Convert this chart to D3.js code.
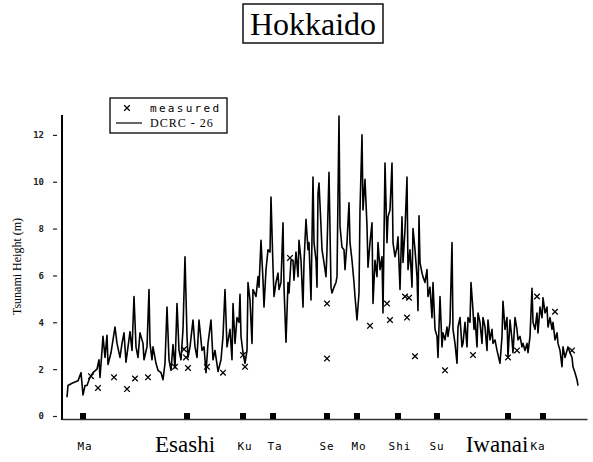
<!DOCTYPE html>
<html>
<head>
<meta charset="utf-8">
<script src="https://cdn.jsdelivr.net/npm/d3@7/dist/d3.min.js"></script>
<style>
  body { margin: 0; background: #fff; }
  svg { display: block; }
</style>
</head>
<body>
<div id="chart"></div>
<script>
// computed tsunami height along the coast (DCRC-26), [position, height m]
const modelLine = [
  [2.5,0.8],[3,1.3],[5,1.4],[6.5,1.45],[8,1.5],[9.5,1.85],[10.5,0.9],[11.5,1.3],[12.5,1.3],[14,1.65],
  [15.5,1.85],[17.5,2.0],[18.5,2.4],[19,1.65],[20,2.8],[20.5,3.4],[21.5,2.5],[22.5,3.45],[23,2.2],[24.5,2.7],
  [25.5,3.25],[26.5,3.8],[27.5,3.1],[29,2.5],[30,3.1],[31,3.55],[32,2.3],[33,2.95],[34,3.6],[35,2.8],
  [36,5.1],[37,2.95],[38,2.5],[39,3.55],[40.5,3.1],[41,2.4],[42.5,2.95],[43.5,5.4],[44,3.1],[45,2.4],
  [45.5,2.95],[47,2.25],[48,1.95],[49.5,1.85],[50.5,1.55],[51.5,2.25],[52.5,4.65],[53.5,2.4],[54.5,1.95],[55.5,3.05],
  [56.5,2.05],[57.5,4.8],[58.5,2.8],[59.5,2.4],[60.5,3.7],[61.5,6.8],[62.5,3.4],[63,2.5],[64,2.95],[65.5,4.1],
  [66.5,2.95],[67.5,2.5],[68.5,4.1],[70,2.8],[71,2.95],[72,1.85],[73,3.1],[74.5,4.1],[75.5,2.4],[76.5,2.8],
  [78,1.9],[79.5,2.4],[80.5,3.4],[81.5,5.4],[82.5,2.95],[84,3.7],[85,2.4],[85.5,4.8],[86.5,3.1],[87.5,4.2],
  [88.5,4.0],[89,5.2],[89.5,3.4],[90.5,2.7],[91.5,2.25],[92.5,2.8],[93,5.7],[94,4.95],[95,3.1],[95.5,5.4],
  [97,5.1],[98,5.95],[98.5,5.5],[99.5,7.5],[100.5,5.8],[101,4.65],[102,6.25],[103,7.1],[104,7.0],[104.5,9.35],
  [105.5,6.35],[106,5.1],[107,5.7],[108,6.1],[108.5,5.4],[109.5,5.7],[110.5,8.25],[111,5.5],[112,3.15],[113,5.7],
  [113.5,5.25],[114.5,6.65],[115.5,6.65],[116,5.8],[117,7.0],[118,5.95],[118.5,7.5],[119.5,6.65],[120.5,4.65],[121,6.55],
  [122,8.4],[123,7.1],[123.5,7.4],[124.5,4.95],[125.5,10.2],[126,7.4],[127,6.65],[127.5,5.5],[128,9.5],[128.5,9.95],
  [129.5,8.1],[130,7.1],[131,6.55],[132,5.95],[132.5,7.1],[133.5,10.4],[134.5,5.5],[135,5.25],[136,5.5],[137,5.7],
  [137.5,5.95],[138.5,12.8],[139,8.1],[140,7.2],[141,7.1],[141.5,6.25],[142.5,7.4],[143.5,9.1],[144,7.4],[145,6.65],
  [146,5.7],[146.5,5.1],[147.5,4.1],[148.5,5.25],[149,8.8],[150,12.0],[150.5,8.8],[151.5,10.1],[152.5,8.1],[153,6.35],
  [154,7.4],[155,8.25],[155.5,4.8],[156.5,6.65],[157.5,5.95],[158,7.4],[159,6.25],[160,6.8],[160.5,4.4],[161.5,10.8],
  [162.5,7.4],[163,8.5],[164,8.8],[165,10.8],[165.5,7.4],[166.5,6.8],[167.5,7.2],[168,7.65],[169,5.4],[170,8.5],
  [170.5,6.55],[171.5,7.95],[172.5,10.2],[173,6.25],[174,7.1],[175,5.5],[175.5,8.0],[176.5,7.1],[177.5,5.95],[178,4.5],
  [178.5,8.55],[179,6.55],[180,6.1],[180.5,5.95],[181.5,5.7],[182.5,6.25],[183,5.1],[184,5.5],[185,4.2],[185.5,5.7],
  [186.5,3.7],[187.5,3.4],[188,2.5],[189,5.1],[190,2.95],[190.5,3.55],[191.5,3.25],[192.5,3.8],[193,3.4],[194,4.0],
  [195,7.4],[195.5,3.7],[196.5,3.1],[197.5,2.25],[198,3.8],[199,4.2],[200,2.95],[200.5,3.1],[201.5,4.0],[202.5,2.95],
  [203,4.2],[204,4.0],[204.5,5.7],[205.5,4.5],[206,3.7],[206.5,4.2],[207.5,2.95],[208,4.4],[209,4.0],[210,3.1],
  [210.5,4.2],[211.5,3.8],[212.5,2.8],[213,4.1],[214,3.25],[215,3.7],[215.5,3.1],[216.5,3.25],[217.5,2.8],[219,2.25],
  [220,3.4],[220.5,4.9],[221.5,3.7],[222.5,4.2],[223,2.5],[224,4.1],[225,3.25],[225.5,2.7],[226.5,4.2],[227.5,3.7],
  [228,3.25],[229,3.4],[230,2.95],[230.5,3.1],[231.5,2.8],[232.5,3.1],[233,2.7],[234,3.4],[235,5.45],[235.5,4.0],
  [236.5,3.7],[237.5,4.4],[238,3.55],[239,4.65],[240,4.2],[240.5,5.05],[241.5,4.4],[242.5,4.65],[243,3.8],[244,4.2],
  [245,3.7],[245.5,4.0],[246.5,3.25],[247.5,3.55],[248,3.1],[249,2.8],[250,2.1],[250.5,2.95],[251.5,2.5],[252.5,2.8],
  [253,2.95],[254,2.7],[255,2.5],[255.5,2.1],[256.5,1.85],[257.5,1.55],[258,1.3]
];

// measured run-up heights, [position, height m]
const measured = [
  [14.5,1.7],[18,1.2],[26,1.65],[32.5,1.15],[36.5,1.6],[43,1.65],[56.5,2.1],[61,2.85],[62,2.5],[63,2.05],
  [72.5,2.1],[80.5,1.85],[90.5,2.6],[91.5,2.1],[114,6.75],[132.5,4.8],[132.5,2.45],[154,3.85],[162.5,4.8],[164,4.1],
  [171.5,5.1],[173.5,5.05],[172.5,4.2],[176.5,2.55],[191.5,1.95],[205.5,2.6],[223,2.5],[227.5,2.8],[237.5,5.1],[246.5,4.45],
  [255,2.8]
];

// tide gauge / town locations along the coast
const stationPos = [10.5, 62.5, 90.5, 105.5, 132.5, 147.5, 168, 187.5, 223, 240.5];

const placeNames = ["Ma", "Esashi", "Ku", "Ta", "Se", "Mo", "Shi", "Su", "Iwanai", "Ka"];
const placePos = [11.5, 61.5, 91.5, 106.5, 132.5, 148.5, 169, 187.5, 217.5, 238];
const bigNames = ["Esashi", "Iwanai"];

const yTicks = [0, 2, 4, 6, 8, 10, 12];

const width = 593;
const height = 462;
const margin = { top: 115, right: 6, bottom: 43, left: 62 };

const svg = d3.select("#chart")
  .append("svg")
  .attr("width", width)
  .attr("height", height);

const xScale = d3.scaleLinear()
  .domain([0, 262.5])
  .range([margin.left, width - margin.right]);

const yScale = d3.scaleLinear()
  .domain([0, 12.85])
  .range([416, margin.top]);

const baseY = 419;

// title box
svg.append("text")
  .attr("x", 313)
  .attr("y", 35)
  .attr("text-anchor", "middle")
  .attr("font-family", "Liberation Serif, serif")
  .attr("font-size", 32)
  .text("Hokkaido");

svg.append("rect")
  .attr("x", 243)
  .attr("y", 4)
  .attr("width", 140)
  .attr("height", 39)
  .attr("fill", "none")
  .attr("stroke", "#111")
  .attr("stroke-width", 1.5);

// y axis
const yAxis = d3.axisLeft(yScale)
  .tickValues(yTicks)
  .tickSizeInner(4)
  .tickSizeOuter(0)
  .tickPadding(14);

const yg = svg.append("g")
  .attr("transform", `translate(${margin.left},0)`)
  .call(yAxis);

yg.select(".domain").remove();
yg.selectAll(".tick line")
  .attr("x1", -9)
  .attr("x2", -5)
  .attr("stroke", "#222")
  .attr("stroke-width", 1.2);
yg.selectAll(".tick text")
  .attr("font-family", "DejaVu Sans Mono, monospace")
  .attr("font-weight", "bold")
  .attr("font-size", 9)
  .attr("fill", "#222");

svg.append("line")
  .attr("x1", margin.left)
  .attr("x2", margin.left)
  .attr("y1", yScale(12.85))
  .attr("y2", baseY + 1)
  .attr("stroke", "#000")
  .attr("stroke-width", 2);

// x axis, no ticks
const xAxis = d3.axisBottom(xScale).tickValues([]).tickSizeOuter(0);
svg.append("g")
  .attr("transform", `translate(0,${baseY})`)
  .call(xAxis)
  .select(".domain")
  .attr("stroke", "#333")
  .attr("stroke-width", 1.5);

svg.append("text")
  .attr("transform", `translate(21,${(203 + 330) / 2}) rotate(-90)`)
  .attr("text-anchor", "middle")
  .attr("font-family", "Liberation Serif, serif")
  .attr("font-size", 12)
  .text("Tsunami Height (m)");

// model line
const line = d3.line()
  .x(d => xScale(d[0]))
  .y(d => yScale(d[1]));

svg.append("path")
  .datum(modelLine)
  .attr("fill", "none")
  .attr("stroke", "#000")
  .attr("stroke-width", 1.6)
  .attr("stroke-linejoin", "round")
  .attr("d", line);

// measured crosses
const cross = d3.symbol().type(d3.symbolTimes).size(22);
svg.selectAll(".meas")
  .data(measured)
  .enter()
  .append("path")
  .attr("class", "meas")
  .attr("transform", d => `translate(${xScale(d[0])},${yScale(d[1])})`)
  .attr("d", cross)
  .attr("fill", "none")
  .attr("stroke", "#000")
  .attr("stroke-width", 1.3);

// station squares
svg.selectAll(".station")
  .data(stationPos)
  .enter()
  .append("rect")
  .attr("class", "station")
  .attr("x", d => xScale(d) - 3)
  .attr("y", yScale(0) - 3)
  .attr("width", 6)
  .attr("height", 6)
  .attr("fill", "#000");

// place names
svg.selectAll(".place")
  .data(placeNames)
  .enter()
  .append("text")
  .attr("class", "place")
  .attr("x", (d, i) => xScale(placePos[i]))
  .attr("y", d => bigNames.includes(d) ? 452 : 450)
  .attr("text-anchor", "middle")
  .attr("font-family", d => bigNames.includes(d) ? "Liberation Serif, serif" : "DejaVu Sans Mono, monospace")
  .attr("font-size", d => bigNames.includes(d) ? 23 : 11)
  .attr("letter-spacing", d => bigNames.includes(d) ? 0 : 1)
  .text(d => d);

// legend
const legend = svg.append("g");
legend.append("rect")
  .attr("x", 110)
  .attr("y", 98)
  .attr("width", 117)
  .attr("height", 35)
  .attr("fill", "#fff")
  .attr("stroke", "#000")
  .attr("stroke-width", 1.3);

legend.append("path")
  .attr("transform", "translate(127,108)")
  .attr("d", cross)
  .attr("fill", "none")
  .attr("stroke", "#000")
  .attr("stroke-width", 1.3);

legend.append("text")
  .attr("x", 150)
  .attr("y", 112)
  .attr("font-family", "DejaVu Sans Mono, monospace")
  .attr("font-size", 11)
  .attr("letter-spacing", 2.3)
  .text("measured");

legend.append("line")
  .attr("x1", 116)
  .attr("x2", 142)
  .attr("y1", 123)
  .attr("y2", 123)
  .attr("stroke", "#000")
  .attr("stroke-width", 1.2);

legend.append("text")
  .attr("x", 150)
  .attr("y", 127)
  .attr("font-family", "Liberation Serif, serif")
  .attr("font-size", 12)
  .attr("letter-spacing", 1)
  .text("DCRC - 26");
</script>
</body>
</html>
